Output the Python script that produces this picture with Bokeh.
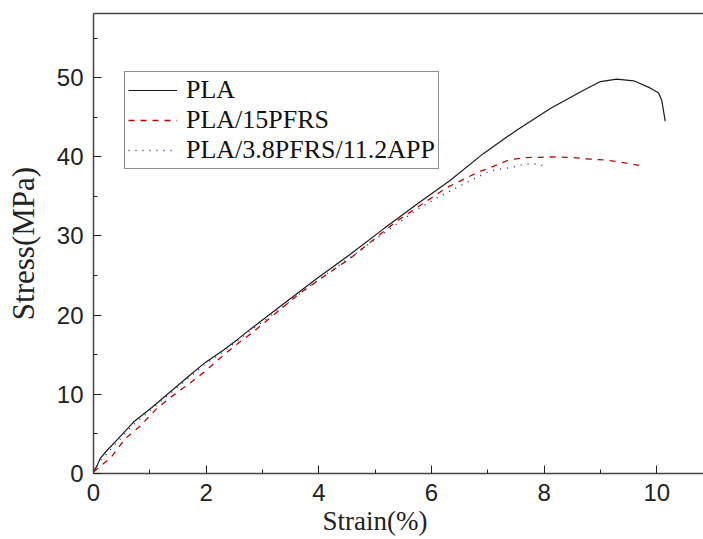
from bokeh.plotting import figure
from bokeh.models import LinearAxis, Title, Legend, LegendItem, FixedTicker
from bokeh.embed import file_html
from bokeh.resources import INLINE

# ---- data ----
pla_strain = [0, 0.05, 0.12, 0.25, 0.44, 0.71, 1.03, 1.36, 1.71, 1.98, 2.31, 2.57, 2.78,
              3.37, 3.96, 4.56, 5.15, 5.74, 6.33, 6.92, 7.52, 8.11, 8.70, 9.00, 9.29,
              9.59, 9.88, 10.03, 10.09, 10.15]
pla_stress = [0.3, 0.8, 1.9, 3.0, 4.4, 6.5, 8.3, 10.3, 12.4, 14.0, 15.6, 17.0, 18.2,
              21.4, 24.6, 27.7, 30.9, 34.0, 37.0, 40.4, 43.4, 46.1, 48.4, 49.5, 49.8,
              49.6, 48.7, 48.1, 47.1, 44.5]

pfrs_strain = [0, 0.32, 0.56, 0.83, 1.12, 1.42, 1.71, 1.98, 2.25, 2.54, 2.84, 3.67, 4.56,
               5.39, 6.27, 6.81, 7.10, 7.37, 7.66, 8.23, 8.52, 8.82, 9.09, 9.38, 9.71]
pfrs_stress = [0.2, 2.1, 4.4, 6.0, 8.2, 9.9, 11.4, 12.9, 14.6, 16.3, 17.9, 22.8, 27.2,
               31.9, 36.1, 38.0, 38.8, 39.6, 39.9, 40.0, 39.9, 39.7, 39.6, 39.3, 38.9]

app_strain = [0, 0.12, 0.44, 0.71, 1.03, 1.36, 1.71, 1.98, 2.31, 2.78, 3.37, 3.96, 4.56,
              5.30, 5.80, 6.15, 6.66, 6.98, 7.16, 7.37, 7.55, 7.69, 7.87, 8.02]
app_stress = [0.2, 1.6, 4.1, 6.2, 8.1, 10.1, 12.2, 13.8, 15.4, 18.0, 21.1, 24.3, 27.3,
              31.1, 33.6, 35.0, 36.9, 38.0, 38.4, 38.6, 38.9, 39.1, 39.1, 38.8]

series_names = ["PLA", "PLA/15PFRS", "PLA/3.8PFRS/11.2APP"]
x_ticks = [0, 2, 4, 6, 8, 10]
x_minor = [1, 3, 5, 7, 9]
y_ticks = [0, 10, 20, 30, 40, 50]
y_minor = [5, 15, 25, 35, 45, 55]

SERIF = "Liberation Serif"
SANS = "Liberation Sans"

p = figure(width=703, height=539, x_range=(0, 10.83), y_range=(0, 58.1),
           output_backend="svg", toolbar_location=None,
           min_border_left=93, min_border_right=0, min_border_top=13,
           min_border_bottom=66)
p.outline_line_color = None
p.grid.visible = False
p.background_fill_color = "white"
p.border_fill_color = "white"

r1 = p.line(pla_strain, pla_stress, line_color="#1a1a1a", line_width=1.2)
r2 = p.line(pfrs_strain, pfrs_stress, line_color="#c00000", line_width=1.3,
            line_dash="6 6")
r3 = p.line(app_strain, app_stress, line_color="#2a2a9a", line_width=1.5,
            line_dash="1 6")

for ax in (p.xaxis[0], p.yaxis[0]):
    ax.axis_line_color = "#444444"
    ax.axis_line_width = 1.5
    ax.major_tick_line_color = "#222222"
    ax.minor_tick_line_color = "#222222"
    ax.major_tick_in = 8
    ax.major_tick_out = 0
    ax.minor_tick_in = 4
    ax.minor_tick_out = 0
    ax.major_label_text_font = SANS
    ax.major_label_text_font_size = "24px"
    ax.major_label_text_color = "#222222"
    ax.major_label_standoff = 10

p.xaxis[0].ticker = FixedTicker(ticks=x_ticks, minor_ticks=x_minor)
p.yaxis[0].ticker = FixedTicker(ticks=y_ticks, minor_ticks=y_minor)

p.yaxis[0].axis_label = "Stress(MPa)"
p.yaxis[0].axis_label_text_font = SERIF
p.yaxis[0].axis_label_text_font_style = "normal"
p.yaxis[0].axis_label_text_font_size = "31px"
p.yaxis[0].axis_label_text_color = "#222222"
p.yaxis[0].axis_label_standoff = 13

top = LinearAxis(ticker=FixedTicker(ticks=[], minor_ticks=[]),
                 axis_line_color="#444444", axis_line_width=1.5,
                 major_tick_line_color=None, minor_tick_line_color=None,
                 major_tick_in=0, major_tick_out=0, minor_tick_in=0, minor_tick_out=0,
                 major_label_standoff=0)
p.add_layout(top, "above")

xtitle = Title(text="Strain(%)", align="left", offset=229, standoff=0,
               text_font=SERIF, text_font_size="27px", text_font_style="normal",
               text_color="#222222")
p.add_layout(xtitle, "below")

legend = Legend(items=[LegendItem(label=series_names[0], renderers=[r1]),
                       LegendItem(label=series_names[1], renderers=[r2]),
                       LegendItem(label=series_names[2], renderers=[r3])],
                location=(31, 304), orientation="vertical",
                label_text_font=SERIF, label_text_font_size="26px",
                label_text_color="#111111",
                border_line_color="#222222", border_line_width=1,
                background_fill_alpha=1, padding=3, spacing=0, margin=0,
                glyph_width=49, glyph_height=26, label_height=26,
                label_standoff=9)
p.add_layout(legend, "center")

open("out.html", "w").write(file_html(p, INLINE))
